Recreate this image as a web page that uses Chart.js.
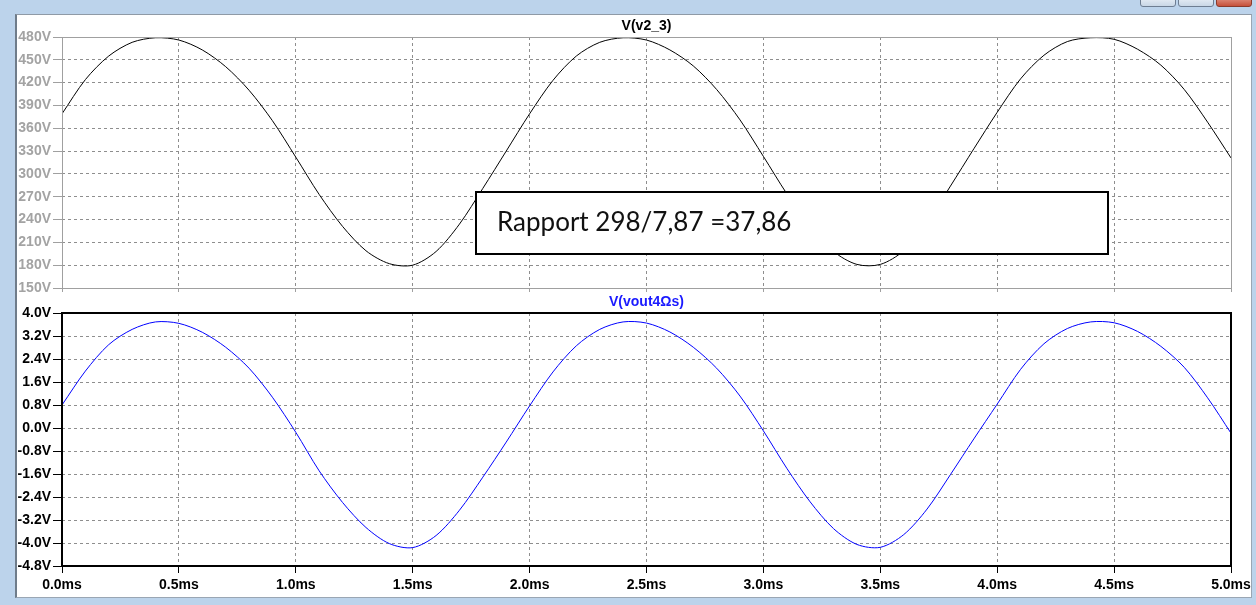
<!DOCTYPE html>
<html>
<head>
<meta charset="utf-8">
<title>V(v2_3) / V(vout4Ωs)</title>
<script src="https://cdn.jsdelivr.net/npm/chart.js@4.4.1/dist/chart.umd.min.js"></script>
<style>
  html, body { margin: 0; padding: 0; }
  body {
    width: 1256px; height: 605px; overflow: hidden; position: relative;
    background: #bcd3eb;
  }
  #pane {
    position: absolute; left: 15px; top: 14px; width: 1237px; height: 584px;
    background: #ffffff; box-sizing: border-box;
    border-left: 2px solid #6f7c8a; border-top: 1px solid #8f9aa6;
    border-right: 1px solid #9aa6b3; border-bottom: 1px solid #9aa6b3;
  }
  .btn {
    position: absolute; top: -5px; height: 12px; box-sizing: border-box;
    border: 1px solid #6e7e92; border-radius: 3px;
    background: linear-gradient(#eef3f9, #c9d7e6);
  }
  canvas { position: absolute; left: 0; }
  #top { top: 0; }
  #bottom { top: 289px; }
</style>
</head>
<body>
<div id="pane"></div>
<div class="btn" style="left:1140px;width:36px"></div>
<div class="btn" style="left:1178px;width:36px"></div>
<div class="btn" style="left:1216px;width:36px;background:linear-gradient(#e7a192,#c6503a);border-color:#8b3a2b"></div>
<canvas id="top" width="1256" height="300"></canvas>
<canvas id="bottom" width="1256" height="316"></canvas>
<script>
// Transient simulation, 0 – 5 ms, sampled every 0.1 ms
const timeMs = [
  0.0, 0.1, 0.2, 0.3, 0.4, 0.5, 0.6, 0.7, 0.8, 0.9,
  1.0, 1.1, 1.2, 1.3, 1.4, 1.5, 1.6, 1.7, 1.8, 1.9,
  2.0, 2.1, 2.2, 2.3, 2.4, 2.5, 2.6, 2.7, 2.8, 2.9,
  3.0, 3.1, 3.2, 3.3, 3.4, 3.5, 3.6, 3.7, 3.8, 3.9,
  4.0, 4.1, 4.2, 4.3, 4.4, 4.5, 4.6, 4.7, 4.8, 4.9,
  5.0
];

// V(v2_3) in volts
const v2_3 = [
  379, 424, 455, 473, 479, 476, 463, 441, 410, 370,
  322, 273, 231, 199, 182, 180, 198, 234, 281, 330,
  379, 423, 455, 473, 479, 476, 463, 442, 411, 371,
  323, 274, 231, 198, 181, 181, 199, 236, 284, 333,
  381, 425, 456, 474, 479, 477, 464, 443, 411, 368,
  321
];

// V(vout4Ωs) in volts
const vout4 = [
  0.80, 1.98, 2.90, 3.43, 3.69, 3.64, 3.33, 2.81, 2.08, 1.07,
  -0.15, -1.49, -2.59, -3.46, -4.02, -4.16, -3.74, -2.86, -1.71, -0.49,
  0.77, 1.95, 2.86, 3.43, 3.69, 3.65, 3.34, 2.81, 2.08, 1.11,
  -0.10, -1.40, -2.57, -3.50, -4.05, -4.15, -3.71, -2.82, -1.62, -0.38,
  0.83, 2.04, 2.93, 3.46, 3.69, 3.66, 3.36, 2.84, 2.11, 1.05,
  -0.18
];

// Axis ticks
const xTicksMs = [0.0, 0.5, 1.0, 1.5, 2.0, 2.5, 3.0, 3.5, 4.0, 4.5, 5.0];
const yTicksTop = [150, 180, 210, 240, 270, 300, 330, 360, 390, 420, 450, 480];
const yTicksBottom = [-4.8, -4.0, -3.2, -2.4, -1.6, -0.8, 0.0, 0.8, 1.6, 2.4, 3.2, 4.0];

// Annotation placed in the upper pane (data coordinates: ms / V)
const noteText = 'Rapport 298/7,87 =37,86';
const noteSpanMs = [1.77, 4.475];
const noteSpanV = [276.5, 195];

const tickFont = { family: '"Liberation Sans", Arial, sans-serif', weight: 'bold', size: 14 };
const fixTicks = arr => scale => { scale.ticks = arr.map(v => ({ value: v })); };

function points(ys) {
  return timeMs.map((t, i) => ({ x: t, y: ys[i] }));
}

// Frame, pane title and optional note box
function panePlugin(cfg) {
  return {
    id: 'pane_' + cfg.name,
    afterDatasetsDraw(chart) {
      const { ctx, chartArea: a } = chart;
      ctx.save();
      ctx.setLineDash([]);
      ctx.strokeStyle = cfg.frameColor;
      ctx.lineWidth = cfg.frameWidth;
      const o = cfg.frameWidth % 2 ? 0.5 : 0;
      ctx.strokeRect(Math.round(a.left) + o, Math.round(a.top) + o,
                     Math.round(a.right - a.left), Math.round(a.bottom - a.top));

      ctx.font = 'bold 14px "Liberation Sans", Arial, sans-serif';
      ctx.fillStyle = cfg.titleColor;
      ctx.textAlign = 'center';
      ctx.textBaseline = 'middle';
      ctx.fillText(cfg.title, (a.left + a.right) / 2, a.top - 11);

      if (cfg.note) {
        const xs = chart.scales.x, ys = chart.scales.y;
        const x1 = Math.round(xs.getPixelForValue(noteSpanMs[0]));
        const x2 = Math.round(xs.getPixelForValue(noteSpanMs[1]));
        const y1 = Math.round(ys.getPixelForValue(noteSpanV[0]));
        const y2 = Math.round(ys.getPixelForValue(noteSpanV[1]));
        ctx.fillStyle = '#ffffff';
        ctx.fillRect(x1, y1, x2 - x1, y2 - y1);
        ctx.strokeStyle = '#000000';
        ctx.lineWidth = 2;
        ctx.strokeRect(x1, y1, x2 - x1, y2 - y1);
        ctx.fillStyle = '#111111';
        ctx.textAlign = 'left';
        ctx.textBaseline = 'alphabetic';
        ctx.font = '26px Lato, "Open Sans", sans-serif';
        ctx.fillText(noteText, x1 + 21, (y1 + y2) / 2 + 8);
      }
      ctx.restore();
    }
  };
}

function makePane(canvasId, opts) {
  return new Chart(document.getElementById(canvasId), {
    type: 'line',
    data: {
      datasets: [{
        data: points(opts.values),
        borderColor: opts.lineColor,
        borderWidth: 1,
        pointRadius: 0,
        tension: 0.3,
        fill: false
      }]
    },
    options: {
      responsive: false,
      animation: false,
      devicePixelRatio: 1,
      layout: { padding: { left: 0, right: 25, top: opts.padTop, bottom: 0 } },
      plugins: { legend: { display: false }, tooltip: { enabled: false }, title: { display: false } },
      scales: {
        x: {
          type: 'linear', min: 0, max: 5,
          afterBuildTicks: fixTicks(xTicksMs),
          afterFit: s => { s.height = opts.xHeight; },
          ticks: {
            display: opts.showX, autoSkip: false, maxRotation: 0, padding: 4,
            color: opts.labelColor, font: tickFont,
            callback: v => v.toFixed(1) + 'ms'
          },
          grid: { color: '#8e8e8e', lineWidth: 1, drawTicks: true, tickLength: opts.xTickLen,
                  tickColor: opts.frameColor, tickBorderDash: [], tickWidth: 1 },
          border: { display: false, dash: [3, 3] }
        },
        y: {
          type: 'linear', min: opts.yMin, max: opts.yMax,
          afterBuildTicks: fixTicks(opts.yTicks),
          afterFit: s => { s.width = 62; },
          ticks: {
            autoSkip: false, padding: 2, color: opts.labelColor, font: tickFont,
            callback: opts.yFormat
          },
          grid: { color: '#8e8e8e', lineWidth: 1, drawTicks: true, tickLength: 9,
                  tickColor: opts.frameColor, tickBorderDash: [], tickWidth: 1 },
          border: { display: false, dash: [3, 3] }
        }
      }
    },
    plugins: [panePlugin({
      name: canvasId, title: opts.title, titleColor: opts.titleColor,
      frameColor: opts.frameColor, frameWidth: opts.frameWidth, note: opts.note
    })]
  });
}

makePane('top', {
  values: v2_3, lineColor: '#000000',
  yMin: 150, yMax: 480, yTicks: yTicksTop,
  yFormat: v => Math.round(v) + 'V',
  labelColor: '#a3a3a3', frameColor: '#a0a0a0', frameWidth: 1,
  title: 'V(v2_3)', titleColor: '#000000',
  padTop: 37, xHeight: 12, xTickLen: 4, showX: false, note: true
});

makePane('bottom', {
  values: vout4, lineColor: '#0000ff',
  yMin: -4.8, yMax: 4.0, yTicks: yTicksBottom,
  yFormat: v => (Math.abs(v) < 1e-9 ? 0 : v).toFixed(1) + 'V',
  labelColor: '#000000', frameColor: '#000000', frameWidth: 2,
  title: 'V(vout4Ωs)', titleColor: '#1a1aff',
  padTop: 24, xHeight: 39, xTickLen: 7, showX: true, note: false
});
</script>
</body>
</html>
